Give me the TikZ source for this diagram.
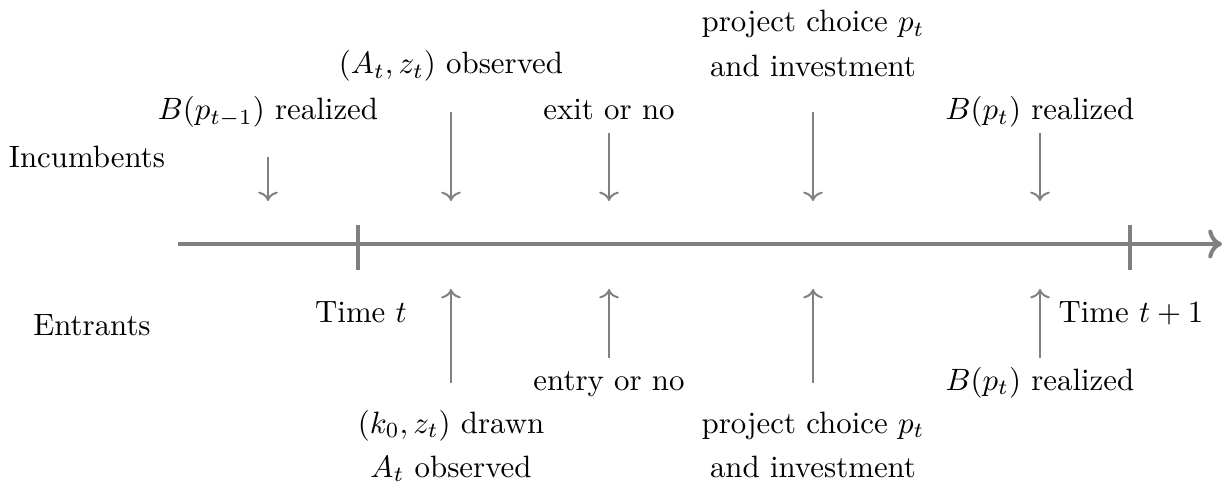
\documentclass[tikz,border=0pt]{standalone}
\usetikzlibrary{arrows.meta}
\begin{document}
\begin{tikzpicture}[x=0.324pt,y=-0.324pt,
  axis/.style={draw=gray,line width=1.3pt},
  event/.style={draw=gray,line width=0.65pt,->},
  lbl/.style={anchor=base,inner sep=0pt,font=\normalsize}]
\useasboundingbox (0,0) rectangle (1228,494);

% time axis and period ticks
\coordinate (ax0) at (178,244);
\coordinate (ax1) at (1222,244);
\draw[axis,->] (ax0) -- (ax1);
\coordinate (t0a) at (358,225); \coordinate (t0b) at (358,270);
\coordinate (t1a) at (1130,225); \coordinate (t1b) at (1130,270);
\draw[axis] (t0a) -- (t0b);
\draw[axis] (t1a) -- (t1b);

% row labels
\node[lbl] (inc) at (87,168) {Incumbents};
\node[lbl] (ent) at (92,335) {Entrants};
\node[lbl] (tt) at (361,322) {Time $t$};
\node[lbl] (tt1) at (1131,322) {Time $t+1$};

% incumbent events
\node[lbl] (i1) at (268,120) {$B(p_{t-1})$ realized};
\node[lbl] (i2) at (451,74) {$(A_t,z_t)$ observed};
\node[lbl] (i3) at (609,120) {exit or no};
\node[lbl] (i4a) at (813,32) {project choice $p_t$};
\node[lbl] (i4b) at (813,77) {and investment};
\node[lbl] (i5) at (1040,120) {$B(p_t)$ realized};

\coordinate (a1s) at (268,157); \coordinate (a1e) at (268,201);
\coordinate (a2s) at (451,112); \coordinate (a2e) at (451,201);
\coordinate (a3s) at (609,133); \coordinate (a3e) at (609,201);
\coordinate (a4s) at (813,112); \coordinate (a4e) at (813,201);
\coordinate (a5s) at (1040,133); \coordinate (a5e) at (1040,201);
\draw[event] (a1s) -- (a1e);
\draw[event] (a2s) -- (a2e);
\draw[event] (a3s) -- (a3e);
\draw[event] (a4s) -- (a4e);
\draw[event] (a5s) -- (a5e);

% entrant events
\node[lbl] (e2a) at (451,433) {$(k_0,z_t)$ drawn};
\node[lbl] (e2b) at (451,477) {$A_t$ observed};
\node[lbl] (e3) at (609,390) {entry or no};
\node[lbl] (e4a) at (813,433) {project choice $p_t$};
\node[lbl] (e4b) at (813,477) {and investment};
\node[lbl] (e5) at (1040,390) {$B(p_t)$ realized};

\coordinate (b2s) at (451,383); \coordinate (b2e) at (451,289);
\coordinate (b3s) at (609,358); \coordinate (b3e) at (609,289);
\coordinate (b4s) at (813,383); \coordinate (b4e) at (813,289);
\coordinate (b5s) at (1040,358); \coordinate (b5e) at (1040,289);
\draw[event] (b2s) -- (b2e);
\draw[event] (b3s) -- (b3e);
\draw[event] (b4s) -- (b4e);
\draw[event] (b5s) -- (b5e);
\end{tikzpicture}
\end{document}
